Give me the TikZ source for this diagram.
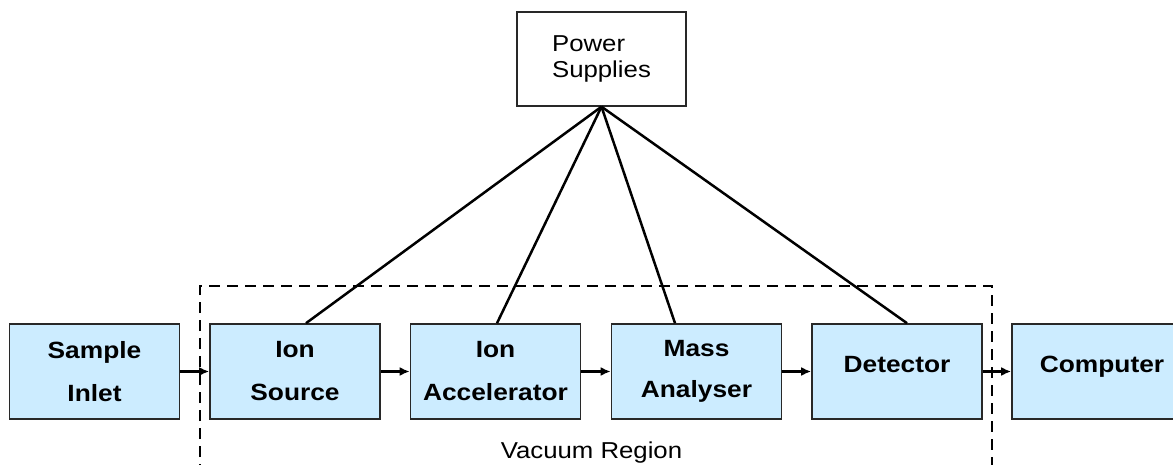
\documentclass[tikz,border=0pt]{standalone}
\usepackage{fontspec}
\setmainfont{Liberation Sans}
\newfontfamily\widesans[FakeStretch=1.12]{Liberation Sans}
\usetikzlibrary{arrows.meta,calc}
\definecolor{boxfill}{RGB}{204,236,255}
\definecolor{boxline}{RGB}{40,40,40}
\tikzset{
  unit/.style={draw=boxline, line width=1.6pt, fill=boxfill, minimum width=170pt,
    minimum height=95pt, inner sep=0pt, align=center,
    font=\widesans\bfseries\fontsize{23.5}{43}\selectfont},
  supply/.style={draw=boxline, line width=1.4pt, fill=white, minimum width=169pt,
    minimum height=94pt, inner sep=0pt, align=left,
    font=\widesans\fontsize{23}{26}\selectfont},
  flow/.style={line width=2.5pt, -{Latex[length=10pt,width=9pt]}},
  feed/.style={line width=2.5pt},
  vacuum/.style={line width=2.8pt, dash pattern=on 11pt off 7pt}
}
\begin{document}
\begin{tikzpicture}[x=1pt,y=-1pt]
  \useasboundingbox (0,0) rectangle (1173,465);
  \clip (0,0) rectangle (1173,465);

  % boundary of the evacuated part of the instrument
  \draw[vacuum] (200,475) -- (200,286) -- (992,286) -- (992,475);

  % stages of the spectrometer
  \node[unit] (inlet) at (94.5,371.5) {Sample\\Inlet};
  \node[unit] (src)   at (295,371.5)  {Ion\\Source};
  \node[unit] (acc)   at (495.5,371.5) {Ion\\Accelerator};
  \node[unit] (mass)  at (696.5,371.5) {Mass\\[-1.5pt]Analyser};
  \node[unit, text height=17pt, text depth=16pt] (det) at (897,371.5) {Detector};
  \node[unit, text height=17pt, text depth=16pt, minimum width=180pt] (comp) at (1102,371.5) {Computer};

  \node[supply] (power) at (601.5,59) {Power\\Supplies};

  \node[anchor=base, font=\widesans\fontsize{23}{26}\selectfont] (vac) at (591.5,458) {Vacuum Region};

  % sample path through the stages
  \draw[flow] (inlet.east) -- (src.west);
  \draw[flow] (src.east) -- (acc.west);
  \draw[flow] (acc.east) -- (mass.west);
  \draw[flow] (mass.east) -- (det.west);
  \draw[flow] (det.east) -- (comp.west);

  % supply leads
  \draw[feed] (power.south) -- ([xshift=11pt]src.north);
  \draw[feed] (power.south) -- ([xshift=1.5pt]acc.north);
  \draw[feed] (power.south) -- ([xshift=-21.5pt]mass.north);
  \draw[feed] (power.south) -- ([xshift=10pt]det.north);
\end{tikzpicture}
\end{document}
